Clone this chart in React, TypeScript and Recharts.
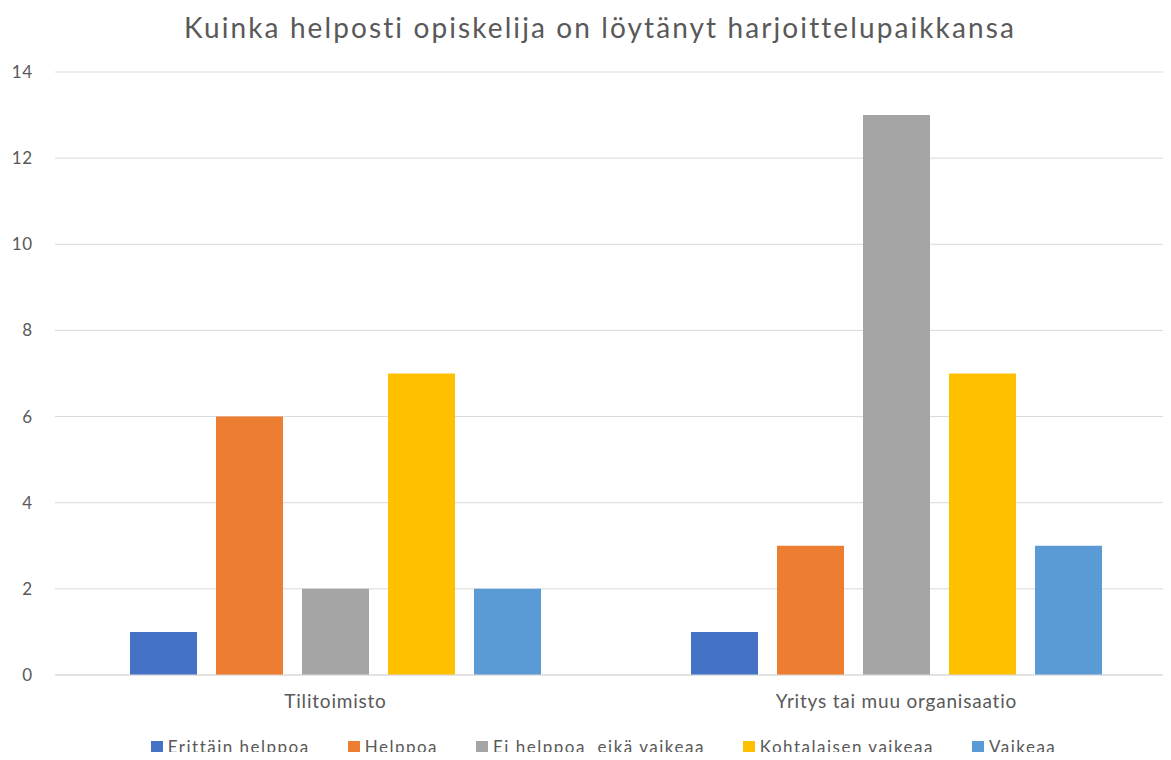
import React from "react"
import { Bar, BarChart, CartesianGrid, Legend, XAxis, YAxis } from "recharts"

const categories = ["Tilitoimisto", "Yritys tai muu organisaatio"]
const seriesNames = [
  "Erittäin helppoa",
  "Helppoa",
  "Ei helppoa  eikä vaikeaa",
  "Kohtalaisen vaikeaa",
  "Vaikeaa",
]
const erittainHelppoa = [1, 1]
const helppoa = [6, 3]
const eiHelppoaEikaVaikeaa = [2, 13]
const kohtalaisenVaikeaa = [7, 7]
const vaikeaa = [2, 3]
const yTicks = [0, 2, 4, 6, 8, 10, 12, 14]

const colors = ["#4472C4", "#ED7D31", "#A5A5A5", "#FFC000", "#5B9BD5"]
const seriesValues = [erittainHelppoa, helppoa, eiHelppoaEikaVaikeaa, kohtalaisenVaikeaa, vaikeaa]

const data = categories.map((name, i) => {
  const row: any = { name }
  seriesNames.forEach((s, j) => {
    row["s" + j] = seriesValues[j][i]
  })
  return row
})

const font = "Lato, 'Open Sans', sans-serif"

// legend built straight from the series list so the order stays as in the source
const renderLegend = () => (
  <div
    style={{
      height: 30,
      paddingTop: 7,
      paddingLeft: 30,
      boxSizing: "border-box",
      display: "flex",
      alignItems: "flex-start",
      justifyContent: "center",
      fontFamily: font,
      fontSize: 17,
      letterSpacing: 1.5,
      color: "#595959",
      lineHeight: "20px",
    }}
  >
    {seriesNames.map((s, i) => (
      <span
        key={s}
        style={{
          display: "inline-flex",
          alignItems: "center",
          height: 20,
          marginRight: i < seriesNames.length - 1 ? 38 : 0,
          whiteSpace: "pre",
        }}
      >
        <span style={{ width: 12, height: 12, background: colors[i], marginRight: 5, display: "inline-block" }} />
        {s}
      </span>
    ))}
  </div>
)

export default function App() {
  return (
    <div style={{ margin: -8, width: 1171, height: 760, overflow: "hidden", position: "relative", background: "#fff" }}>
      <div
        style={{
          position: "absolute",
          top: 10,
          left: 0,
          width: 1200,
          textAlign: "center",
          fontFamily: font,
          fontSize: 28,
          letterSpacing: 2.1,
          color: "#595959",
        }}
      >
        Kuinka helposti opiskelija on löytänyt harjoittelupaikkansa
      </div>
      <BarChart
        width={1177}
        height={760}
        data={data}
        margin={{ top: 72, right: 0, left: 0, bottom: 0 }}
        barCategoryGap={75}
        barGap={19}
      >
        <CartesianGrid vertical={false} stroke="#d9d9d9" />
        <XAxis
          dataKey="name"
          height={55}
          tickLine={false}
          axisLine={{ stroke: "#d9d9d9" }}
          tick={{ fill: "#595959", fontSize: 19, fontFamily: font, letterSpacing: 0.8 }}
          tickMargin={14}
        />
        <YAxis
          width={55}
          domain={[0, 14]}
          ticks={yTicks}
          axisLine={false}
          tickLine={false}
          tickMargin={16}
          tick={{ fill: "#595959", fontSize: 17, fontFamily: font, letterSpacing: 0.8 }}
        />
        <Legend verticalAlign="bottom" content={renderLegend} />
        {seriesNames.map((s, j) => (
          <Bar key={s} dataKey={"s" + j} name={s} fill={colors[j]} isAnimationActive={false} />
        ))}
      </BarChart>
    </div>
  )
}
